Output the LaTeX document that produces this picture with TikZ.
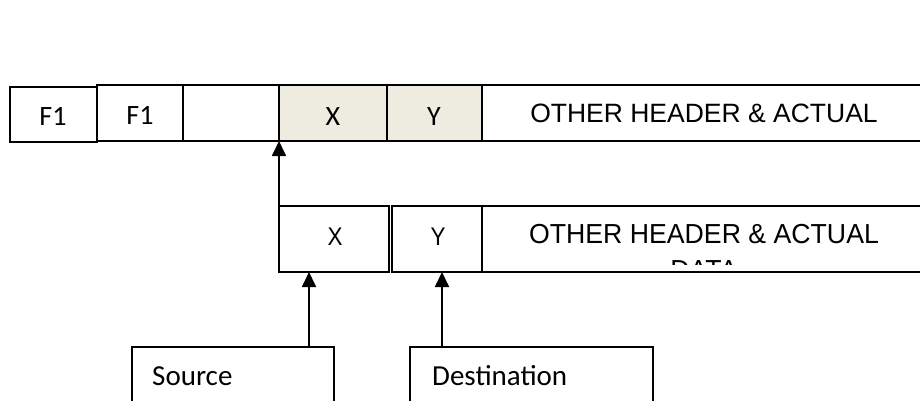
\documentclass[tikz,border=0pt]{standalone}
\usepackage{fontspec}
\setmainfont{Carlito}
\newfontfamily\arialfont{Liberation Sans}
\newfontfamily\arialwide[FakeStretch=0.97]{Liberation Sans}
\newfontfamily\arialnarrow[FakeStretch=0.88]{Liberation Sans}
\usetikzlibrary{arrows.meta}
\definecolor{cellfill}{HTML}{EEECE1}
\begin{document}
\begin{tikzpicture}[x=1pt,y=-1pt,
  cellbox/.style={draw, line width=1.1pt, inner sep=0pt, outer sep=0pt, anchor=north west},
  shaded/.style={cellbox, fill=cellfill},
  cal/.style={font=\fontsize{28}{30}\selectfont, anchor=base, inner sep=0pt},
  ari/.style={font=\arialfont\fontsize{26.5}{30}\selectfont, anchor=base, inner sep=0pt},
  arimid/.style={font=\arialwide\fontsize{27.5}{30}\selectfont, anchor=base, inner sep=0pt},
  arinar/.style={font=\arialnarrow\fontsize{25.5}{30}\selectfont, anchor=base, inner sep=0pt},
  lbl/.style={font=\fontsize{29}{30}\selectfont, anchor=base west, inner sep=0pt},
  arr/.style={line width=1.8pt, -{Triangle[width=14pt,length=15pt]}}]
\clip (0,0) rectangle (920,400);
\fill[white] (0,0) rectangle (920,400);
% top row
\node[cellbox, minimum width=87pt, minimum height=55pt] (f1a) at (10,87) {};
\node[cellbox, minimum width=86pt, minimum height=56pt] (f1b) at (97,85) {};
\node[cellbox, minimum width=96pt, minimum height=56pt] (emp) at (183,85) {};
\node[shaded, minimum width=108pt, minimum height=56pt] (topx) at (279,85) {};
\node[shaded, minimum width=95pt, minimum height=56pt] (topy) at (387,85) {};
\node[cellbox, minimum width=444pt, minimum height=56pt] (topr) at (482,85) {};
\node[cal] (t1) at (53,125) {F1};
\node[cal] (t2) at (140,124) {F1};
\node[cal] (t3) at (333,125) {X};
\node[cal] (t4) at (434,125) {Y};
\node[ari] (t5) at (704,122) {OTHER HEADER \& ACTUAL};
% middle row
\node[cellbox, minimum width=110pt, minimum height=66pt] (midx) at (279,206) {};
\node[cellbox, minimum width=90pt, minimum height=66pt] (midy) at (392,206) {};
\node[cellbox, minimum width=444pt, minimum height=66pt] (midr) at (482,206) {};
\node[arinar] (m1) at (335,245) {X};
\node[arinar] (m2) at (438,245) {Y};
\begin{scope}
\clip (482,207) rectangle (920,264);
\node[arimid] (m3) at (704,243) {OTHER HEADER \& ACTUAL};
\node[arimid] (m4) at (704,279) {DATA};
\end{scope}
% bottom boxes
\node[cellbox, minimum width=202pt, minimum height=80pt] (src) at (132,347) {};
\node[cellbox, minimum width=243pt, minimum height=80pt] (dst) at (410,347) {};
\node[lbl] (srct) at (152,385) {Source};
\node[lbl] (dstt) at (432,385) {Destination};
% arrows
\draw[arr] (midx.south west) -- (topx.south west);
\draw[arr] ([xshift=-25pt]src.north east) -- ([xshift=-25pt]src.north east |- midx.south);
\draw[arr] ([xshift=32pt]dst.north west) -- ([xshift=32pt]dst.north west |- midy.south);
\end{tikzpicture}
\end{document}
